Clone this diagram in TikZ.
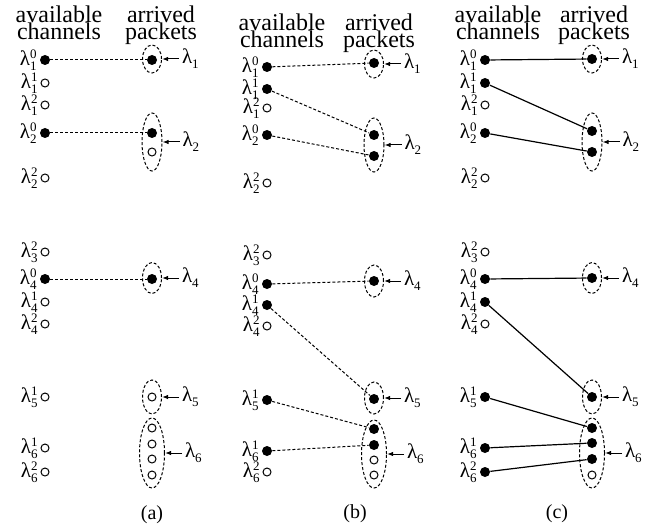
\documentclass[tikz,border=0pt]{standalone}
\usepackage{fontspec}
\setmainfont{Liberation Serif}
\usetikzlibrary{shapes.geometric,arrows.meta,positioning}
\newcommand{\idx}[1]{{\fontsize{6.5}{7}\selectfont#1}}
\newcommand{\lam}[2]{λ\rlap{\raisebox{0.7ex}{\idx{#2}}}\raisebox{-0.5ex}{\idx{#1}}}
\newcommand{\lamg}[1]{λ\raisebox{-0.5ex}{\idx{#1}}}
\begin{document}
\begin{tikzpicture}[x=0.5pt,y=-0.5pt,
	full/.style={circle,fill,inner sep=0pt,minimum size=5pt},
	hollow/.style={circle,draw,line width=0.5pt,inner sep=0pt,minimum size=4pt},
	grp/.style={ellipse,draw,line width=0.5pt,dash pattern=on 1.5pt off 1pt,inner sep=0pt},
	lamtext/.style={font=\fontsize{10.5}{11}\selectfont,inner sep=0pt,outer sep=1.5pt},
	link/.style={line width=0.5pt,dash pattern=on 1.5pt off 1pt},
	tie/.style={line width=0.6pt},
	tag/.style={-{Latex[length=3pt,width=2.2pt]},line width=0.5pt},
	head/.style={align=center,font=\fontsize{12}{8.5}\selectfont,inner sep=0pt,anchor=north}]
		\useasboundingbox (0,0) rectangle (651,529);
		\def\xl{45} % cot kenh
		\def\xr{152} % cot goi
		% (a)
		\node[head] (ahl) at (59,5) {available\\channels};
		\node[head] (ahr) at (161,5) {arrived\\packets};
		\foreach \n/\s/\t/\y/\st in {10/1/0/60/full,11/1/1/83/hollow,12/1/2/105/hollow,20/2/0/133/full,22/2/2/178/hollow,32/3/2/252/hollow,40/4/0/279/full,41/4/1/302/hollow,42/4/2/324/hollow,51/5/1/397/hollow,61/6/1/448/hollow,62/6/2/472/hollow}
			\node[\st,label={[lamtext]left:\lam{\s}{\t}}] (ac\n) at (\xl,\y) {};
		\foreach \n/\y/\st in {1a/60/full,2a/133/full,2b/152/hollow,4a/279/full,5a/397/hollow,6a/428/hollow,6b/444/hollow,6c/459/hollow,6d/475/hollow}
			\node[\st] (ap\n) at (\xr,\y) {};
		\foreach \g/\y/\h/\w in {1/59/14/9.5,2/142/29/10,4/278/15.5/9.5,5/397/17/9.5,6/453/35/12.5}{
			\node[grp,minimum width=\w*1pt,minimum height=\h*1pt] (ag\g) at (\xr,\y) {};
			\node[lamtext,right=8.5pt of ag\g] (al\g) {\lamg{\g}};
			\draw[tag] (al\g.west) -- (ag\g.east);
		}
		\draw[link] (ac10) -- (ap1a);
		\draw[link] (ac20) -- (ap2a);
		\draw[link] (ac40) -- (ap4a);
		% (b)
		\begin{scope}[xshift=111pt]
			\node[head] (bhl) at (60,13) {available\\channels};
			\node[head] (bhr) at (157,13) {arrived\\packets};
			\foreach \n/\s/\t/\y/\st in {10/1/0/67/full,11/1/1/89/full,12/1/2/108/hollow,20/2/0/135/full,22/2/2/183/hollow,32/3/2/255/hollow,40/4/0/284/full,41/4/1/305/full,42/4/2/326/hollow,51/5/1/400/full,61/6/1/451/full,62/6/2/472/hollow}
				\node[\st,label={[lamtext]left:\lam{\s}{\t}}] (bc\n) at (\xl,\y) {};
			\foreach \n/\y/\st in {1a/63/full,2a/135/full,2b/156/full,4a/281/full,5a/399/full,6a/429/full,6b/445/full,6c/460/hollow,6d/475/hollow}
				\node[\st] (bp\n) at (\xr,\y) {};
			\foreach \g/\y/\h/\w in {1/64/14/9.5,2/145/27/10,4/281/16/9.5,5/398/16/9.5,6/454/34/12.5}{
				\node[grp,minimum width=\w*1pt,minimum height=\h*1pt] (bg\g) at (\xr,\y) {};
				\node[lamtext,right=8.5pt of bg\g] (bl\g) {\lamg{\g}};
				\draw[tag] (bl\g.west) -- (bg\g.east);
			}
			\draw[link] (bc10) -- (bp1a);
			\draw[link] (bc11) -- (bp2a);
			\draw[link] (bc20) -- (bp2b);
			\draw[link] (bc40) -- (bp4a);
			\draw[link] (bc41) -- (bp5a);
			\draw[link] (bc51) -- (bp6a);
			\draw[link] (bc61) -- (bp6b);
		\end{scope}
		% (c)
		\begin{scope}[xshift=220pt]
			\node[head] (chl) at (58,5) {available\\channels};
			\node[head] (chr) at (154,5) {arrived\\packets};
			\foreach \n/\s/\t/\y/\st in {10/1/0/60/full,11/1/1/83/full,12/1/2/105/hollow,20/2/0/133/full,22/2/2/178/hollow,32/3/2/252/hollow,40/4/0/279/full,41/4/1/302/full,42/4/2/324/hollow,51/5/1/397/full,61/6/1/448/full,62/6/2/472/full}
				\node[\st,label={[lamtext]left:\lam{\s}{\t}}] (cc\n) at (\xl,\y) {};
			\foreach \n/\y/\st in {1a/59/full,2a/131/full,2b/152/full,4a/278/full,5a/397/full,6a/428/full,6b/443/full,6c/459/full,6d/475/hollow}
				\node[\st] (cp\n) at (\xr,\y) {};
			\foreach \g/\y/\h/\w in {1/59/14/9.5,2/142/29/10,4/278/15.5/9.5,5/397/17/9.5,6/453/35/12.5}{
				\node[grp,minimum width=\w*1pt,minimum height=\h*1pt] (cg\g) at (\xr,\y) {};
				\node[lamtext,right=8.5pt of cg\g] (cl\g) {\lamg{\g}};
				\draw[tag] (cl\g.west) -- (cg\g.east);
			}
			\draw[tie] (cc10) -- (cp1a);
			\draw[tie] (cc11) -- (cp2a);
			\draw[tie] (cc20) -- (cp2b);
			\draw[tie] (cc40) -- (cp4a);
			\draw[tie] (cc41) -- (cp5a);
			\draw[tie] (cc51) -- (cp6a);
			\draw[tie] (cc61) -- (cp6b);
			\draw[tie] (cc62) -- (cp6c);
		\end{scope}
		\node (capa) at (152,515) {(a)};
		\node (capb) at (355,514) {(b)};
		\node (capc) at (557,514) {(c)};
\end{tikzpicture}
\end{document}
